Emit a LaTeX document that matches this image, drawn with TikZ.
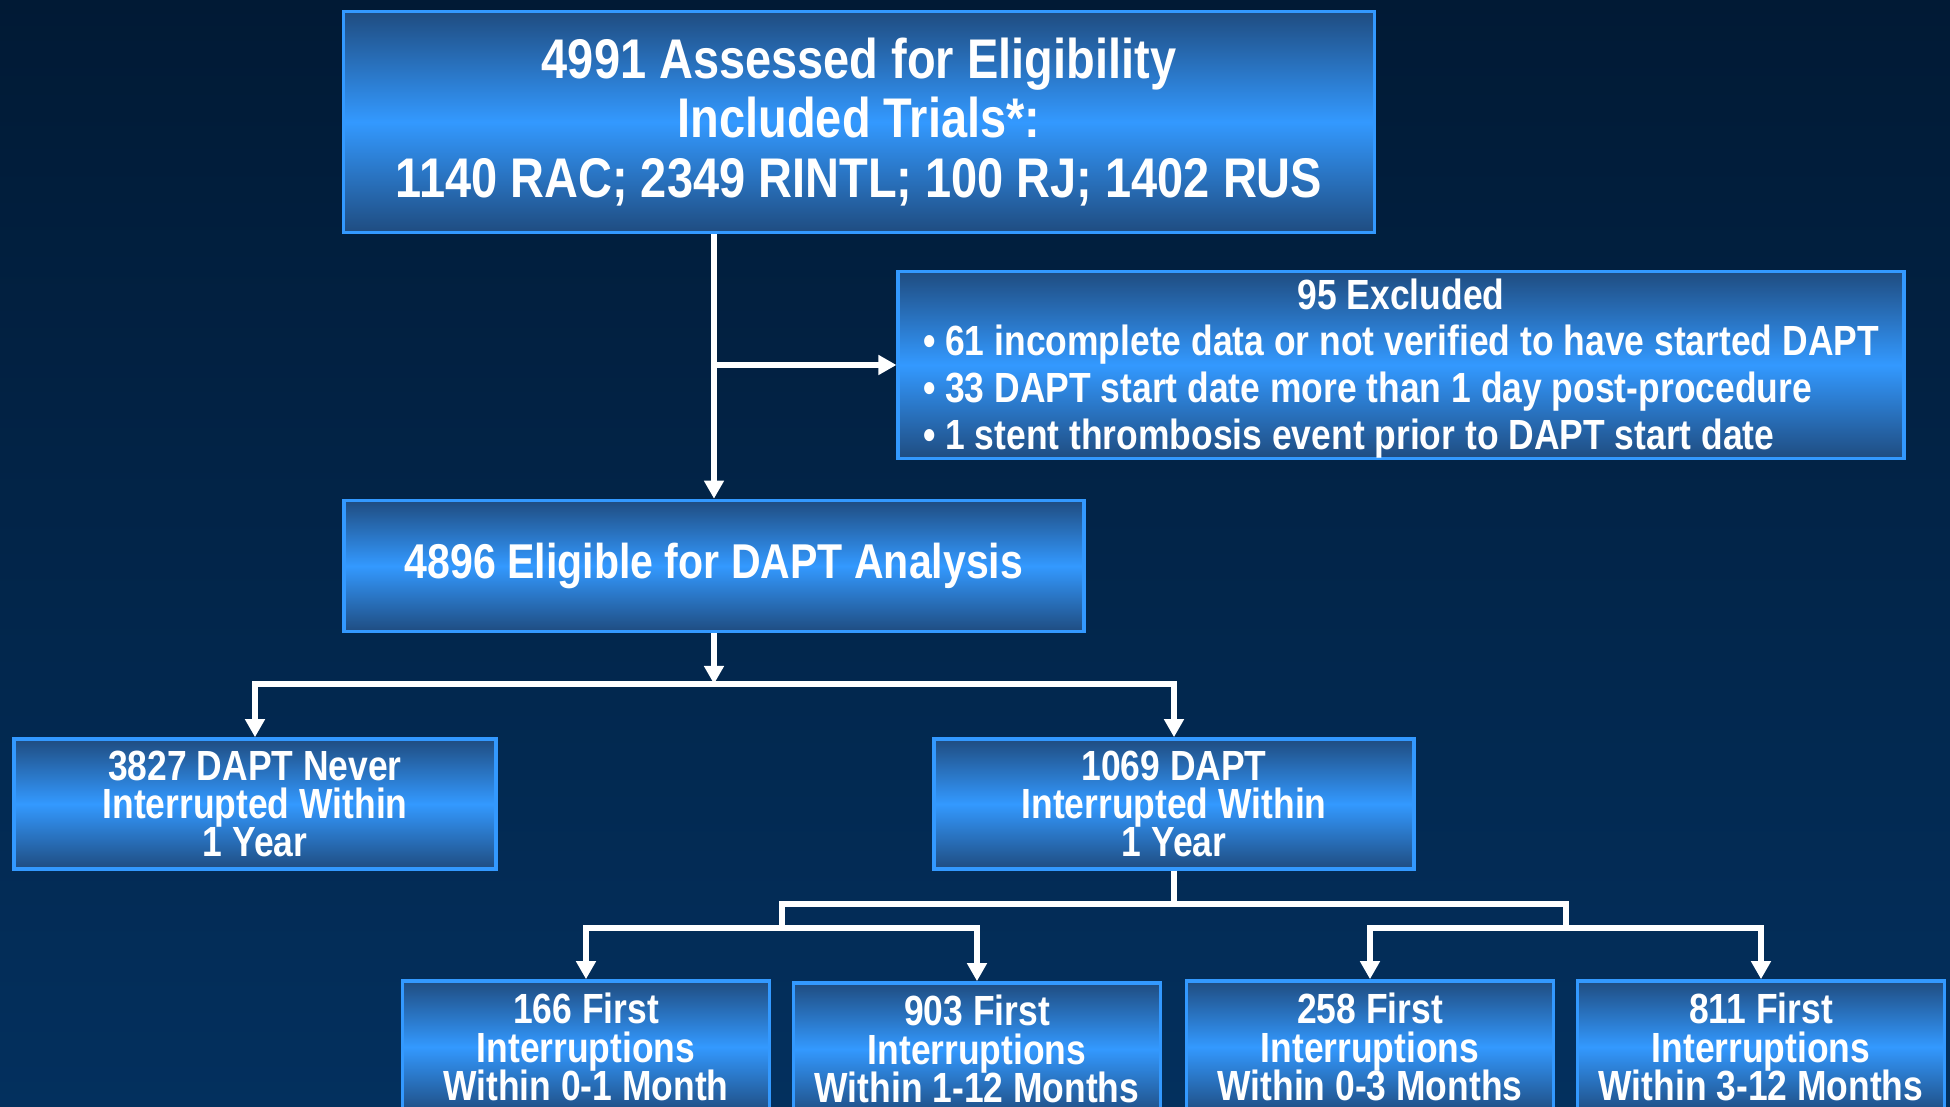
\documentclass[tikz,border=0pt]{standalone}
\usepackage{fontspec}
\setmainfont{Liberation Sans}[FakeStretch=0.84]
\usepackage{tikz}
\usetikzlibrary{positioning,arrows.meta}

\definecolor{bgtop}{HTML}{011A35}
\definecolor{bgbot}{HTML}{03305E}
\definecolor{boxdark}{HTML}{1F4C80}
\definecolor{boxlight}{HTML}{3399FF}
\definecolor{boxedge}{HTML}{3399FF}

\begin{document}
\begin{tikzpicture}[
  x=0.01cm, y=-0.01cm,
  box/.style={draw=boxedge, line width=1pt, top color=boxdark,
              bottom color=boxdark, middle color=boxlight, text=white,
              align=center, inner sep=0pt},
  big/.style={font={\fontsize{15.9}{17}\selectfont\bfseries\lineskiplimit=-5pt\relax}},
  small/.style={font={\fontsize{12}{10.9}\selectfont\bfseries\lineskiplimit=-5pt\relax}},
  leaf/.style={box, small, minimum width=3.67cm, minimum height=1.32cm},
  arrow/.style={-{Triangle[length=1.8mm,width=1.9mm]}, draw=white, line width=1.8pt},
  link/.style={draw=white, line width=1.8pt}
]
\useasboundingbox (0,0) rectangle (1950,1107);
\shade[top color=bgtop, bottom color=bgbot] (0,0) rectangle (1950,1107);

\node[box, big, minimum width=10.3cm, minimum height=2.21cm] (top) at (859,122)
  {4991 Assessed for Eligibility\\Included Trials*:\\1140 RAC; 2349 RINTL; 100 RJ; 1402 RUS};
\node[box, font=\fontsize{12}{13.3}\selectfont\bfseries,
      minimum width=10.05cm, minimum height=1.87cm] (excl) at (1401,365)
  {\raisebox{-0.5mm}[\height][\depth]{\begin{tabular}{@{}l@{}}
   \multicolumn{1}{c}{95 Excluded}\\
   • 61 incomplete data or not verified to have started DAPT\\
   • 33 DAPT start date more than 1 day post-procedure\\
   • 1 stent thrombosis event prior to DAPT start date
   \end{tabular}}};
\node[box, font=\fontsize{13.9}{17}\selectfont\bfseries,
      minimum width=7.4cm, minimum height=1.31cm] (elig) at (714,566)
  {4896 Eligible for DAPT Analysis};
\node[box, small, minimum width=4.82cm, minimum height=1.30cm] (never) at (255,804)
  {3827 DAPT Never\\Interrupted Within\\1 Year};
\node[box, small, minimum width=4.80cm, minimum height=1.30cm] (intr) at (1174,804)
  {1069 DAPT\\Interrupted Within\\1 Year};

\node[leaf] (m01)  at (586,1047)  {166 First\\Interruptions\\Within 0-1 Month};
\node[leaf] (m112) at (977,1049)  {903 First\\Interruptions\\Within 1-12 Months};
\node[leaf] (m03)  at (1370,1047) {258 First\\Interruptions\\Within 0-3 Months};
\node[leaf] (m312) at (1761,1047) {811 First\\Interruptions\\Within 3-12 Months};

\coordinate (split) at (714,684);
\coordinate (mid)   at (1174,904);
\coordinate (lmid)  at (782,928);
\coordinate (rmid)  at (1566,928);

\draw[arrow] (top.south -| elig.north) -- (elig.north);
\draw[arrow] (elig.north |- excl.west) -- (excl.west);
\draw[arrow] (elig.south) -- (split);
\draw[arrow] (split) -| (never.north);
\draw[arrow] (split) -| (intr.north);

\draw[link] (intr.south) |- (lmid |- mid) -- (lmid);
\draw[link] (intr.south) |- (rmid |- mid) -- (rmid);
\draw[arrow] (lmid) -| (m01.north);
\draw[arrow] (lmid) -| (m112.north);
\draw[arrow] (rmid) -| (m03.north);
\draw[arrow] (rmid) -| (m312.north);
\end{tikzpicture}
\end{document}
